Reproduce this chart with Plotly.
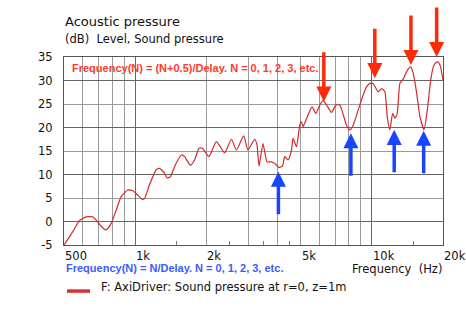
import math
import plotly.graph_objects as go

# ---- data ----
freq_hz = [500, 544, 581, 620, 661, 684, 718, 754, 791, 831,
           872, 930, 977, 1026, 1071, 1095, 1149, 1227, 1267, 1330,
           1361, 1407, 1467, 1515, 1566, 1617, 1710, 1783, 1859, 1922,
           2049, 2203, 2388, 2550, 2677, 2874, 2997, 3200, 3272, 3337,
           3469, 3607, 3765, 3926, 4043, 4192, 4287, 4427, 4576, 4648,
           4804, 4961, 5044, 5123, 5379, 5594, 5799, 6030, 6227, 6436,
           6758, 7047, 7328, 7619, 7822, 8078, 8343, 8758, 9197, 9506,
           9817, 10140, 10640, 11000, 11360, 11620, 11930, 12250, 12530, 12810,
           13150, 13580, 14040, 14600, 14970, 15480, 15980, 16620, 17170, 17740,
           18320, 18920, 19420, 20000]
level_db = [-5.0, -2.2, 0.2, 1.0, 1.0, 0.3, -1.0, -1.8, -0.4, 2.4,
            5.3, 6.7, 6.55, 5.6, 4.7, 4.9, 7.8, 11.0, 11.3, 10.3,
            9.3, 9.5, 11.7, 13.1, 14.15, 13.8, 12.0, 13.1, 15.6, 15.6,
            13.8, 17.0, 14.6, 17.5, 15.2, 18.2, 15.2, 17.5, 16.3, 11.8,
            16.6, 12.7, 12.7, 12.2, 11.5, 11.8, 13.8, 13.1, 15.2, 17.7,
            15.9, 20.5, 21.2, 20.2, 22.7, 24.4, 23.0, 24.8, 25.7, 24.8,
            23.2, 24.8, 24.8, 22.3, 20.5, 19.5, 20.5, 23.7, 26.9, 28.7,
            29.4, 29.3, 27.6, 28.3, 27.6, 22.3, 19.5, 23.0, 22.0, 23.0,
            29.4, 30.3, 31.9, 32.9, 31.5, 27.3, 22.3, 19.5, 23.7, 30.1,
            33.3, 34.0, 33.3, 30.1]

x_tick_vals = [500, 1000, 2000, 5000, 10000, 20000]
x_tick_text = ["500", "1k", "2k", "5k", "10k", "20k"]
x_grid_light = [600, 700, 800, 900, 2000, 3000, 4000, 5000, 6000, 7000, 8000, 9000]
x_grid_dark = [1000, 10000]
x_minor = [1500, 2500, 3500, 4500, 15000]
y_tick_vals = [-5, 0, 5, 10, 15, 20, 25, 30, 35]
y_grid_dark = [0, 10, 20, 30]

# peaks (N+0.5)/Delay and dips N/Delay marked with arrows
peak_freq = [6270, 10300, 14640, 18800]
peak_db = [25.5, 30.5, 33.3, 35.0]
dip_freq = [4030, 8160, 12440, 16570]
dip_db = [10.6, 18.8, 19.5, 19.3]

series_name = "F: AxiDriver: Sound pressure at r=0, z=1m"

FONT = "DejaVu Sans"
BOLD = "Liberation Sans"
RED_LINE = "#d42a2a"
RED_ARROW = "#ff2a0a"
BLUE_ARROW = "#1a45ff"

fig = go.Figure()
fig.add_trace(go.Scatter(
    x=freq_hz, y=level_db, mode="lines",
    line=dict(color=RED_LINE, width=1.2, shape="spline", smoothing=0.5),
    name=series_name, showlegend=False, hoverinfo="skip"))

xr = [math.log10(500), math.log10(20000)]
fig.update_layout(
    width=466, height=321,
    margin=dict(l=64, r=23, t=57, b=76),
    paper_bgcolor="white", plot_bgcolor="white",
    font=dict(family=FONT, size=11, color="#111"),
    xaxis=dict(type="log", range=xr, tickmode="array", tickvals=x_grid_light,
               showticklabels=False, ticks="", showgrid=True, gridcolor="#9a9a9a",
               gridwidth=1, showline=True, linecolor="#555", linewidth=1, mirror=True,
               zeroline=False,
               minor=dict(tickmode="array", tickvals=x_minor, ticks="inside",
                          ticklen=4, tickcolor="#777", showgrid=False)),
    xaxis2=dict(type="log", range=xr, overlaying="x", anchor="y", tickmode="array",
                tickvals=x_grid_dark, showticklabels=False, ticks="", showgrid=True,
                gridcolor="#666", gridwidth=1, showline=False, zeroline=False),
    yaxis=dict(range=[-5, 35], tickmode="array", tickvals=y_tick_vals,
               ticktext=[str(v) for v in y_tick_vals], ticks="",
               ticklabelstandoff=8, showgrid=True, gridcolor="#9a9a9a",
               showline=True, linecolor="#555", linewidth=1, mirror=True,
               zeroline=False, tickfont=dict(family=FONT, size=11.5, color="#111")),
    yaxis2=dict(range=[-5, 35], overlaying="y", anchor="x", tickmode="array",
                tickvals=y_grid_dark, showticklabels=False, ticks="", showgrid=True,
                gridcolor="#666", zeroline=False, showline=False),
)
# invisible trace to activate overlay axes
fig.add_trace(go.Scatter(x=[None], y=[None], xaxis="x2", yaxis="y2",
                         showlegend=False, hoverinfo="skip"))

ann = []
for v, t in zip(x_tick_vals, x_tick_text):
    ann.append(dict(x=math.log10(v), y=-0.056, xref="x", yref="paper", text=t,
                    showarrow=False, xanchor="left", yanchor="middle", xshift=-1,
                    font=dict(family=FONT, size=11.5, color="#111")))

ann += [
    dict(x=0, y=1.189, xref="paper", yref="paper", text="Acoustic pressure",
         showarrow=False, xanchor="left", yanchor="middle", xshift=-1,
         font=dict(family=FONT, size=13, color="#111")),
    dict(x=0, y=1.0957, xref="paper", yref="paper", text="(dB)  Level, Sound pressure",
         showarrow=False, xanchor="left", yanchor="middle", xshift=-1,
         font=dict(family=FONT, size=11.5, color="#111")),
    dict(x=0.0185, y=0.940, xref="paper", yref="paper",
         text="<b>Frequency(N) = (N+0.5)/Delay. N = 0, 1, 2, 3, etc.</b>",
         showarrow=False, xanchor="left", yanchor="middle", xshift=-1,
         font=dict(family=BOLD, size=11, color="#ff3b2b")),
    dict(x=0.0026, y=-0.124, xref="paper", yref="paper",
         text="<b>Frequency(N) = N/Delay. N = 0, 1, 2, 3, etc.</b>",
         showarrow=False, xanchor="left", yanchor="middle", xshift=-1,
         font=dict(family=BOLD, size=11, color="#3a5cff")),
    dict(x=1.0, y=-0.129, xref="paper", yref="paper", text="Frequency  (Hz)",
         showarrow=False, xanchor="right", yanchor="middle", xshift=1,
         font=dict(family=FONT, size=11.5, color="#111")),
    dict(x=0.095, y=-0.225, xref="paper", yref="paper", text=series_name,
         showarrow=False, xanchor="left", yanchor="middle", xshift=-1,
         font=dict(family=FONT, size=11.5, color="#111")),
]

for f, d in zip(peak_freq, peak_db):
    ann.append(dict(x=math.log10(f), y=d, xref="x", yref="y", text="",
                    showarrow=True, arrowhead=2, arrowwidth=3.5, arrowsize=0.86,
                    arrowcolor=RED_ARROW, ax=0, ay=-51, standoff=0))
for f, d in zip(dip_freq, dip_db):
    ann.append(dict(x=math.log10(f), y=d, xref="x", yref="y", text="",
                    showarrow=True, arrowhead=2, arrowwidth=3.5, arrowsize=0.86,
                    arrowcolor=BLUE_ARROW, ax=0, ay=44, standoff=0))

fig.update_layout(annotations=ann)
fig.add_shape(type="line", xref="paper", yref="paper", x0=0.0079, x1=0.0686,
              y0=-0.245, y1=-0.245, line=dict(color="#d93030", width=3.5))

fig.write_html("out.html")
